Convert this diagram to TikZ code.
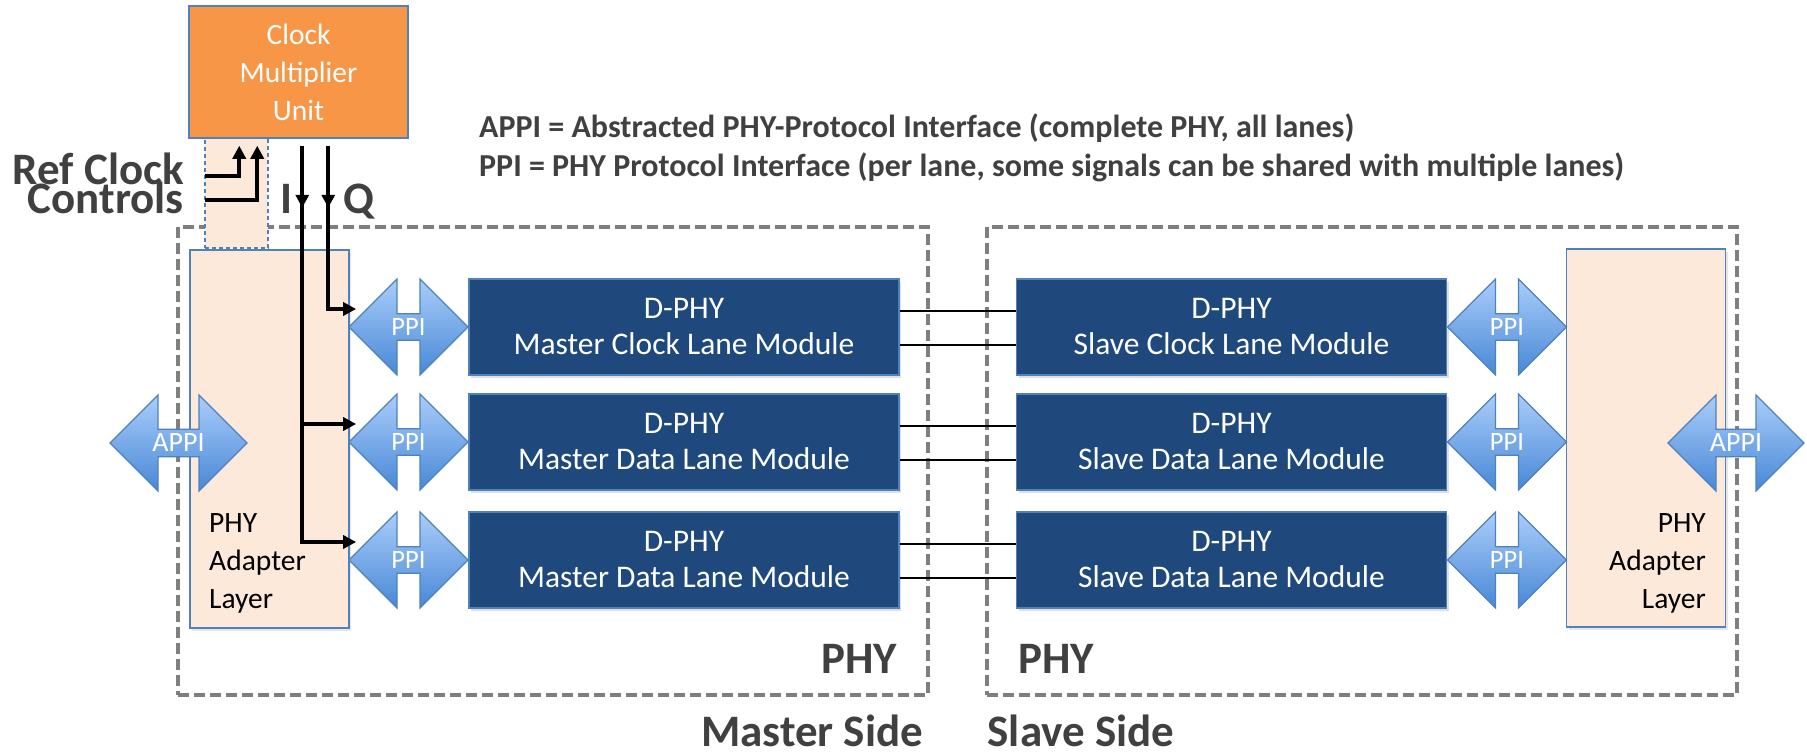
\documentclass[tikz,border=0pt]{standalone}
\usepackage{fontspec}
\setmainfont{Carlito}
\usepackage{tikz}
\usetikzlibrary{shapes.arrows,positioning,calc,arrows.meta,decorations.markings,shadows}

\definecolor{cmuorange}{RGB}{247,150,70}
\definecolor{adaptfill}{RGB}{253,233,217}
\definecolor{boxblue}{RGB}{79,129,189}
\definecolor{moddark}{RGB}{31,73,125}
\definecolor{ppitop}{RGB}{170,205,250}
\definecolor{ppibot}{RGB}{72,136,214}
\definecolor{txtgray}{RGB}{64,64,64}
\definecolor{phygray}{RGB}{127,127,127}

\tikzset{
  module/.style={draw=boxblue, line width=1.5pt, fill=moddark, text=white,
    minimum width=430pt, minimum height=96pt, inner sep=0pt, align=center,
    font=\fontsize{31.5}{36}\selectfont,
    drop shadow={opacity=0.25, shadow xshift=2pt, shadow yshift=-3pt}},
  adapter/.style={draw=boxblue, line width=1.5pt, fill=adaptfill,
    minimum width=159pt, minimum height=378pt, inner sep=0pt,
    drop shadow={opacity=0.2, shadow xshift=2pt, shadow yshift=-3pt}},
  iface/.style={double arrow, double arrow head extend=24pt, double arrow tip angle=90,
    minimum width=96pt, draw=boxblue, line width=1.2pt, top color=ppitop, bottom color=ppibot,
    text=white, inner sep=0pt, font=\fontsize{26.5}{26.5}\selectfont},
  phybox/.style={draw=phygray, line width=3.5pt, dash pattern=on 11pt off 5pt,
    minimum width=750pt, minimum height=468pt, inner sep=0pt},
  sig/.style={line width=4pt, -{Triangle[length=13pt,width=13pt]}},
  midarrow/.style={postaction={decorate}, decoration={markings,
    mark=at position 62pt with {\arrow{Triangle[length=13pt,width=13pt]}}}},
  wire/.style={line width=2.5pt},
  adtext/.style={inner sep=0pt, font=\fontsize{29.5}{38}\selectfont},
  biglbl/.style={font=\bfseries\fontsize{45}{45}\selectfont, text=txtgray, inner sep=0pt},
  notetext/.style={font=\bfseries\fontsize{32}{39}\selectfont, text=txtgray, inner sep=0pt, anchor=base west},
}

\begin{document}
\begin{tikzpicture}[x=1pt,y=-1pt]
    \useasboundingbox (0,0) rectangle (1807,755);

    % dashed PHY frames
    \node[phybox] (phyM) at (553,461) {};
    \node[phybox] (phyS) at (1362,461) {};

    % feed strip under the clock unit
    \node[draw=boxblue, fill=adaptfill, line width=1.2pt, dash pattern=on 4pt off 3pt,
          minimum width=63pt, minimum height=110pt, inner sep=0pt] (feed) at (236.5,193) {};

    % adapter layers
    \node[adapter] (adL) at (269.5,439) {};
    \node[adapter] (adR) at (1646,438) {};
    \node[adtext, anchor=north west, align=left] (adLtxt) at (209,513) {PHY\\Adapter\\Layer};
    \node[adtext, anchor=north east, align=right] (adRtxt) at (1706,513) {PHY\\Adapter\\Layer};

    % clock multiplier unit
    \node[draw=boxblue, line width=1.5pt, fill=cmuorange, text=white, align=center,
          minimum width=219pt, minimum height=132pt, inner sep=0pt,
          font=\fontsize{29.5}{38}\selectfont] (cmu) at (298.5,72) {Clock\\Multiplier\\Unit};

    % lane modules
    \node[module] (mm1) at (684,327) {D-PHY\\Master Clock Lane Module};
    \node[module] (mm2) at (684,442) {D-PHY\\Master Data Lane Module};
    \node[module] (mm3) at (684,560) {D-PHY\\Master Data Lane Module};
    \node[module] (sm1) at (1231.5,327) {D-PHY\\Slave Clock Lane Module};
    \node[module] (sm2) at (1231.5,442) {D-PHY\\Slave Data Lane Module};
    \node[module] (sm3) at (1231.5,560) {D-PHY\\Slave Data Lane Module};

    % PPI arrows
    \node[iface, minimum height=119pt] (ppiL1) at (408.5,327) {\makebox[0pt]{PPI}};
    \node[iface, minimum height=119pt] (ppiL2) at (408.5,442) {\makebox[0pt]{PPI}};
    \node[iface, minimum height=119pt] (ppiL3) at (408.5,560) {\makebox[0pt]{PPI}};
    \node[iface, minimum height=119pt] (ppiR1) at (1507,327) {\makebox[0pt]{PPI}};
    \node[iface, minimum height=119pt] (ppiR2) at (1507,442) {\makebox[0pt]{PPI}};
    \node[iface, minimum height=119pt] (ppiR3) at (1507,560) {\makebox[0pt]{PPI}};

    % lane wires
    \draw[wire] ([yshift=16pt]mm1.east) -- ([yshift=16pt]sm1.west);
    \draw[wire] ([yshift=-18pt]mm1.east) -- ([yshift=-18pt]sm1.west);
    \draw[wire] ([yshift=16pt]mm2.east) -- ([yshift=16pt]sm2.west);
    \draw[wire] ([yshift=-18pt]mm2.east) -- ([yshift=-18pt]sm2.west);
    \draw[wire] ([yshift=16pt]mm3.east) -- ([yshift=16pt]sm3.west);
    \draw[wire] ([yshift=-18pt]mm3.east) -- ([yshift=-18pt]sm3.west);

    % clock inputs and I/Q outputs
    \coordinate (rcin) at (205,176);
    \coordinate (ctin) at (205,200);
    \coordinate (itop) at ($(cmu.south west)+(114,7)$);
    \coordinate (qtop) at ($(cmu.south west)+(140,7)$);
    \coordinate (tipL1) at ([xshift=8pt,yshift=18pt]ppiL1.west);
    \coordinate (tipL2) at ([xshift=8pt,yshift=18pt]ppiL2.west);
    \coordinate (tipL3) at ([xshift=8pt,yshift=18pt]ppiL3.west);
    \draw[sig] (rcin) -| ($(cmu.south west)+(51,7)$);
    \draw[sig] (ctin) -| ($(cmu.south west)+(69,7)$);
    \draw[sig, midarrow] (qtop) |- (tipL1);
    \draw[sig, midarrow] (itop) |- (tipL3);
    \draw[sig] (tipL2 -| itop) -- (tipL2);

    % APPI arrows
    \node[iface, minimum height=137pt, font=\fontsize{28}{28}\selectfont] (appiL) at (178.5,443) {\makebox[0pt]{APPI}};
    \node[iface, minimum height=136pt, font=\fontsize{28}{28}\selectfont] (appiR) at (1736,443) {\makebox[0pt]{APPI}};

    % labels
    \node[notetext] (note1) at (479,137) {APPI = Abstracted PHY-Protocol Interface (complete PHY, all lanes)};
    \node[notetext] (note2) at (479,176) {PPI = PHY Protocol Interface (per lane, some signals can be shared with multiple lanes)};
    \node[biglbl, anchor=base east] (refclk) at (184,184) {Ref Clock};
    \node[biglbl, anchor=base east] (ctrls) at (184,213) {Controls};
    \node[biglbl, anchor=base west] (ilbl) at (280,213) {I};
    \node[biglbl, anchor=base west] (qlbl) at (343,213) {Q};
    \node[biglbl, anchor=base east] (phyMlbl) at (897,673) {PHY};
    \node[biglbl, anchor=base west] (phySlbl) at (1018,673) {PHY};
    \node[biglbl, anchor=base] (mside) at (812,746) {Master Side};
    \node[biglbl, anchor=base] (sside) at (1081,746) {Slave Side};
\end{tikzpicture}
\end{document}
